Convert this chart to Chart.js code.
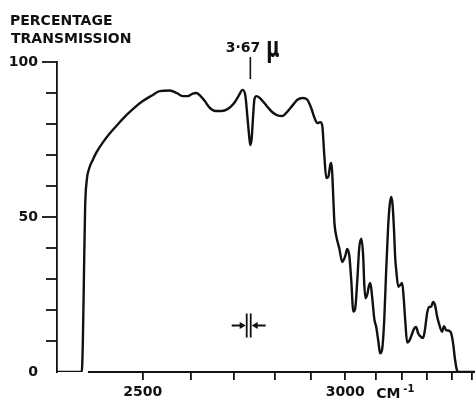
<!DOCTYPE html>
<html><head><meta charset="utf-8">
<script src="https://cdn.jsdelivr.net/npm/chart.js@4/dist/chart.umd.min.js"></script>
<style>html,body{margin:0;padding:0;background:#fff;}canvas{display:block;}</style>
</head><body>
<canvas id="c" width="476" height="400"></canvas>
<script>
// ---- data ----
const WAVENUMBER = [2345,2389,2391,2393,2395,2398,2402,2409,2416,2427,2440,2455,2471,2485,2500,2519,2535,2556,2571,2583,2594,2605,2614,2623,2633,2644,2658,2672,2686,2700,2712,2722,2729,2734,2739,2741,2744,2748,2751,2756,2763,2771,2783,2795,2808,2822,2835,2849,2862,2876,2889,2900,2909,2918,2926,2932,2938,2944,2950,2956,2959,2962,2965,2968,2974,2982,2991,3000,3006,3013,3019,3026,3032,3039,3045,3052,3058,3061,3065,3071,3077,3081,3087,3094,3100,3108,3115,3123,3131,3138,3146,3152,3158,3163,3169,3173,3177,3185,3192,3200,3206,3212,3220,3228,3236,3248,3256,3264,3276,3284,3292,3300,3308,3316,3324,3332,3340,3348,3360,3368,3376,3388,3396,3405,3415,3425,3435,3515];
const TRANSMISSION = [0,0,10,32,53,62,65.5,68.5,71,74,77,80,83,85.3,87.4,89.2,90.6,90.8,90,89,89,89.8,90,89,87.4,85.3,84.2,84.2,84.8,86.5,89,91,89,82,75,73.2,75,83,88,89,88.5,87.4,85.5,83.8,82.8,82.6,84,86,87.8,88.4,87.8,85,82,80.3,80.6,79.5,70,62.6,63,67,67.4,63,55,48,43.5,40,35.5,37.5,39.7,37.5,30,19.5,20.5,30,40,43,37,29,23.8,25,28,28.7,24,17,14.5,10,6,7.5,17,32,47,54,56.5,54,45,37,33,27.5,28,28.7,24,17,9.5,10,11.5,14,14.5,12.5,11.3,11,14,19,21,21,22.6,21.5,18,15.5,13,14.8,13.5,13.3,12.6,9.4,4,0.5,0,0];
const X_TICKS = [2500,2600,2700,2800,2900,3000,3100,3200,3300,3400,3500];
const X_LABELS = {2500:'2500', 3000:'3000'};
const X_UNIT = 'CM', X_UNIT_SUP = '-1';
const Y_TICKS = [0,10,20,30,40,50,60,70,80,90,100];
const Y_LABELS = {0:'0', 50:'50', 100:'100'};
const TITLE_LINES = ['PERCENTAGE','TRANSMISSION'];
const ANNOT_TEXT = '3\u00b767', ANNOT_UNIT = '\u03bc', ANNOT_NU = 2741;
const RES_NU = 2737, RES_T = 15;

// prism dispersion: wavenumber knots and their relative spacing along the chart
const CAL_NU  = [2345,2400,2500,2600,2700,2800,2900,3000,3100,3200,3300,3400,3500,3515];
const CAL_POS = [0,31,86,134,177,218,255,289,320,346,371,396,416,419];

class PrismScale extends Chart.LinearScale {
  _dec(v) {
    const n = CAL_NU.length, tot = CAL_POS[n-1];
    let i = 0;
    if (v <= CAL_NU[0]) i = 0; else if (v >= CAL_NU[n-1]) i = n-2;
    else { while (i < n-2 && v > CAL_NU[i+1]) i++; }
    const f = (v - CAL_NU[i]) / (CAL_NU[i+1] - CAL_NU[i]);
    return (CAL_POS[i] + f * (CAL_POS[i+1] - CAL_POS[i])) / tot;
  }
  getPixelForValue(v) { return this.getPixelForDecimal(this._dec(v)); }
  getValueForPixel(p) {
    const n = CAL_NU.length, tot = CAL_POS[n-1];
    const pos = this.getDecimalForPixel(p) * tot;
    let i = 0;
    while (i < n-2 && pos > CAL_POS[i+1]) i++;
    const f = (pos - CAL_POS[i]) / (CAL_POS[i+1] - CAL_POS[i]);
    return CAL_NU[i] + f * (CAL_NU[i+1] - CAL_NU[i]);
  }
}
PrismScale.id = 'prism';
PrismScale.defaults = Chart.LinearScale.defaults;
Chart.register(PrismScale);

const INK = '#111';
const FONT = '"DejaVu Sans", sans-serif';

const decor = {
  id: 'decor',
  afterDraw(chart) {
    const ctx = chart.ctx, xs = chart.scales.x, ys = chart.scales.y, ca = chart.chartArea;
    ctx.save();
    ctx.fillStyle = INK; ctx.strokeStyle = INK;
    // title
    ctx.font = 'bold 14px ' + FONT;
    ctx.textAlign = 'left'; ctx.textBaseline = 'alphabetic';
    ctx.fillText(TITLE_LINES[0], 10, 25);
    ctx.fillText(TITLE_LINES[1], 11, 43);
    // x axis line
    ctx.lineWidth = 1.8;
    ctx.beginPath();
    ctx.moveTo(xs.getPixelForValue(2400), ca.bottom);
    ctx.lineTo(ca.right, ca.bottom);
    ctx.stroke();
    // y ticks
    Y_TICKS.forEach(v => {
      if (v === 0) return;
      const y = ys.getPixelForValue(v);
      const len = (v % 50 === 0) ? 15 : 11;
      ctx.beginPath(); ctx.moveTo(ca.left - len, y); ctx.lineTo(ca.left, y); ctx.stroke();
    });
    // x unit
    const x3 = xs.getPixelForValue(3000);
    ctx.font = 'bold 14px ' + FONT; ctx.textBaseline = 'alphabetic';
    ctx.fillText(X_UNIT, x3 + 31, 398);
    ctx.font = 'bold 10px ' + FONT;
    ctx.fillText(X_UNIT_SUP, x3 + 58, 392);
    // annotation 3.67 mu
    const ax = xs.getPixelForValue(ANNOT_NU);
    ctx.lineWidth = 1.6;
    ctx.beginPath(); ctx.moveTo(ax, ys.getPixelForValue(101.6)); ctx.lineTo(ax, ys.getPixelForValue(94.5)); ctx.stroke();
    ctx.font = 'bold 14px ' + FONT; ctx.textAlign = 'right';
    ctx.fillText(ANNOT_TEXT, ax + 10, 52);
    ctx.save();
    ctx.translate(ax + 16, 57);
    ctx.scale(0.62, 1);
    ctx.font = 'bold 29px ' + FONT; ctx.textAlign = 'left';
    ctx.fillText(ANNOT_UNIT, 0, 0);
    ctx.restore();
    // resolution marker
    const cx = xs.getPixelForValue(RES_NU), cy = ys.getPixelForValue(RES_T);
    ctx.lineWidth = 1.8;
    ctx.beginPath();
    ctx.moveTo(cx - 2, cy - 12); ctx.lineTo(cx - 2, cy + 12);
    ctx.moveTo(cx + 2, cy - 12); ctx.lineTo(cx + 2, cy + 12);
    ctx.moveTo(cx - 17, cy); ctx.lineTo(cx - 6, cy);
    ctx.moveTo(cx + 17, cy); ctx.lineTo(cx + 6, cy);
    ctx.stroke();
    ctx.beginPath();
    ctx.moveTo(cx - 3, cy); ctx.lineTo(cx - 9, cy - 3.5); ctx.lineTo(cx - 9, cy + 3.5); ctx.closePath();
    ctx.moveTo(cx + 3, cy); ctx.lineTo(cx + 9, cy - 3.5); ctx.lineTo(cx + 9, cy + 3.5); ctx.closePath();
    ctx.fill();
    ctx.restore();
  }
};

new Chart(document.getElementById('c'), {
  type: 'line',
  data: {
    datasets: [{
      data: WAVENUMBER.map((x, i) => ({x, y: TRANSMISSION[i]})),
      borderColor: INK, borderWidth: 2.4, pointRadius: 0,
      cubicInterpolationMode: 'monotone', fill: false
    }]
  },
  options: {
    responsive: false, devicePixelRatio: 1, animation: false,
    layout: {padding: {left: 0, top: 62, right: 0, bottom: 0}},
    plugins: {legend: {display: false}, tooltip: {enabled: false}},
    scales: {
      x: {
        type: 'prism', min: 2345, max: 3515,
        afterBuildTicks: s => { s.ticks = X_TICKS.map(v => ({value: v})); },
        afterFit: s => { s.height = 28; },
        border: {display: false},
        grid: {display: true, drawOnChartArea: false, drawTicks: true, tickLength: 8, color: INK, lineWidth: 1.8},
        ticks: {autoSkip: false, maxRotation: 0, minRotation: 0, padding: 4, color: INK,
                font: {family: FONT, size: 14, weight: 'bold'},
                callback: v => X_LABELS[v] || ''}
      },
      y: {
        type: 'linear', min: 0, max: 100,
        afterBuildTicks: s => { s.ticks = Y_TICKS.map(v => ({value: v})); },
        afterFit: s => { s.width = 57; },
        border: {display: true, color: INK, width: 1.8},
        grid: {drawOnChartArea: false, drawTicks: false},
        ticks: {padding: 19, color: INK, font: {family: FONT, size: 14, weight: 'bold'},
                callback: v => (Y_LABELS[v] !== undefined ? Y_LABELS[v] : '')}
      }
    }
  },
  plugins: [decor]
});
</script>
</body></html>
